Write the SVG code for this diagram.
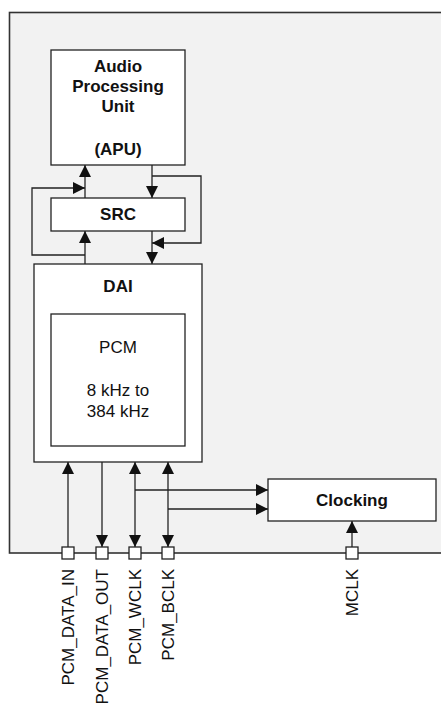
<svg xmlns="http://www.w3.org/2000/svg" width="441" height="706" viewBox="0 0 441 706">
<style>
.box{fill:#fff;stroke:#222;stroke-width:1.3}
.ln{fill:none;stroke:#222;stroke-width:1.3}
.b{font-family:"Liberation Sans",Arial,sans-serif;font-weight:bold;font-size:17px;fill:#111;text-anchor:middle}
.t{font-family:"Liberation Sans",Arial,sans-serif;font-size:17px;fill:#111;text-anchor:middle}
.lbl{font-family:"Liberation Sans",Arial,sans-serif;font-size:17px;fill:#111;text-anchor:end}
.pin{fill:#fff;stroke:#222;stroke-width:1.3}
</style>
<defs>
<marker id="ah" markerUnits="userSpaceOnUse" markerWidth="12" markerHeight="12" refX="12" refY="6" orient="auto-start-reverse" viewBox="0 0 12 12">
<path d="M0,0 L12,6 L0,12 z" fill="#111"/>
</marker>
</defs>
<rect id="chip" x="9.5" y="12.5" width="460" height="540.5" fill="#f2f2f2" stroke="#333" stroke-width="1.6"/>
<g id="connectors">
<path class="ln" d="M85,198 V165" marker-end="url(#ah)"/>
<path class="ln" d="M85,264 V231" marker-end="url(#ah)"/>
<path class="ln" d="M85,255 H32 V188 H85" marker-end="url(#ah)"/>
<path class="ln" d="M152,165 V198" marker-end="url(#ah)"/>
<path class="ln" d="M152,176 H201 V243 H152" marker-end="url(#ah)"/>
<path class="ln" d="M152,231 V264" marker-end="url(#ah)"/>
<path class="ln" d="M68,547 V462" marker-end="url(#ah)"/>
<path class="ln" d="M102,462 V547" marker-end="url(#ah)"/>
<path class="ln" d="M135,462 V547" marker-start="url(#ah)" marker-end="url(#ah)"/>
<path class="ln" d="M168,462 V547" marker-start="url(#ah)" marker-end="url(#ah)"/>
<path class="ln" d="M135,490 H268" marker-end="url(#ah)"/>
<path class="ln" d="M168,509 H268" marker-end="url(#ah)"/>
<path class="ln" d="M352,547 V521" marker-end="url(#ah)"/>
</g>
<g id="apu">
<rect class="box" x="51" y="50" width="134" height="115"/>
<text class="b" x="118" y="72">Audio</text>
<text class="b" x="118" y="92">Processing</text>
<text class="b" x="118" y="112">Unit</text>
<text class="b" x="118" y="155">(APU)</text>
</g>
<g id="src">
<rect class="box" x="51" y="198" width="134" height="33"/>
<text class="b" x="118" y="220">SRC</text>
</g>
<g id="dai">
<rect class="box" x="34" y="264" width="168" height="198"/>
<text class="b" x="118" y="292">DAI</text>
</g>
<g id="pcm">
<rect class="box" x="51" y="314" width="134" height="132"/>
<text class="t" x="118" y="353">PCM</text>
<text class="t" x="118" y="396">8 kHz to</text>
<text class="t" x="118" y="417">384 kHz</text>
</g>
<g id="clocking">
<rect class="box" x="268" y="479" width="168" height="42"/>
<text class="b" x="352" y="506">Clocking</text>
</g>
<g id="pin_data_in">
<rect class="pin" x="62" y="547" width="12" height="12"/>
<text class="lbl" transform="translate(74,569) rotate(-90)">PCM_DATA_IN</text>
</g>
<g id="pin_data_out">
<rect class="pin" x="96" y="547" width="12" height="12"/>
<text class="lbl" transform="translate(108,569) rotate(-90)">PCM_DATA_OUT</text>
</g>
<g id="pin_wclk">
<rect class="pin" x="129" y="547" width="12" height="12"/>
<text class="lbl" transform="translate(141,569) rotate(-90)">PCM_WCLK</text>
</g>
<g id="pin_bclk">
<rect class="pin" x="162" y="547" width="12" height="12"/>
<text class="lbl" transform="translate(174,569) rotate(-90)">PCM_BCLK</text>
</g>
<g id="pin_mclk">
<rect class="pin" x="346" y="547" width="12" height="12"/>
<text class="lbl" transform="translate(358,569) rotate(-90)">MCLK</text>
</g>
</svg>
